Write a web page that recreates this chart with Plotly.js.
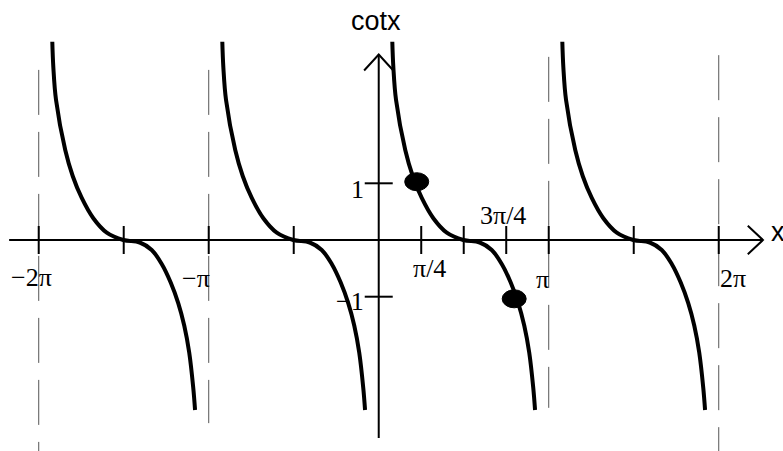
<!DOCTYPE html>
<html>
<head>
<meta charset="utf-8">
<script src="https://cdn.plot.ly/plotly-3.0.1.min.js"></script>
<style>
  html, body { margin: 0; padding: 0; background: #fff; }
  #plot { width: 783px; height: 451px; }
</style>
</head>
<body>
<div id="plot"></div>
<script>
const PI = Math.PI;

// one branch of the curve
// x is measured from the asymptote on its left
let branchDX = [0.251, 0.270, 0.320, 0.490, 0.628, 0.795, 1.009, 1.257, 1.563,
                1.867, 2.088, 2.273, 2.439, 2.578, 2.689, 2.781, 2.855, 2.889];
let branchY = [3.497, 3.051, 2.469, 1.587, 1.129, 0.741, 0.383, 0.129, 0.000,
               -0.044, -0.176, -0.423, -0.750, -1.113, -1.508, -1.984, -2.601, -2.998];

// left asymptote of each drawn branch
let branchStarts = [-2 * PI, -PI, 0, PI];

// dashed asymptotes
let asymptoteX = [-2 * PI, -PI, PI, 2 * PI];
let asymptoteTop = [3.00, 3.00, 3.23, 3.26];
let asymptoteBottom = [-3.75, -3.23, -2.96, -3.75];

// marked points
let dotX = [0.702, 2.503];
let dotY = [1.028, -1.037];

// ticks
let xTickVals = [-2 * PI, -1.5 * PI, -PI, -0.5 * PI, 0.25 * PI, 0.5 * PI, 0.75 * PI, PI, 1.5 * PI, 2 * PI];
let yTickVals = [1, -1];

// tick labels
let xLabelVals = [-2 * PI, -PI, 0.25 * PI, 0.75 * PI, PI, 2 * PI];
let xLabelText = ['\u22122\u03c0', '\u2212\u03c0', '\u03c0/4', '3\u03c0/4', '\u03c0', '2\u03c0'];
let yLabelVals = [1, -1];
let yLabelText = ['1', '\u22121'];

// label offsets in pixels
let xLabelShift = [[-7, -37], [-13, -38], [8, -28], [-3, 25], [-6, -39], [14, -38]];
let yLabelShift = [[-21, -6], [-29, -5]];

let serif = 'Liberation Serif, Times New Roman, serif';
let sans = 'Liberation Sans, Arial, sans-serif';

// curve traces
let data = branchStarts.map(function (x0) {
    return {
        x: branchDX.map(function (d) { return x0 + d; }),
        y: branchY,
        mode: 'lines',
        line: { color: '#000', width: 4, shape: 'spline', smoothing: 1 },
        hoverinfo: 'skip',
        showlegend: false
    };
});

// tick marks on the x axis
data.push({
    x: xTickVals,
    y: xTickVals.map(function () { return 0; }),
    mode: 'markers',
    marker: { symbol: 'line-ns-open', size: 20, color: '#000', line: { color: '#000', width: 2 } },
    hoverinfo: 'skip',
    showlegend: false
});

// tick marks on the y axis
data.push({
    x: yTickVals.map(function () { return 0; }),
    y: yTickVals,
    mode: 'markers',
    marker: { symbol: 'line-ew-open', size: 20, color: '#000', line: { color: '#000', width: 2 } },
    hoverinfo: 'skip',
    showlegend: false
});

let shapes = [];

// dashed asymptotes
asymptoteX.forEach(function (x, i) {
    shapes.push({
        type: 'line', xref: 'x', yref: 'y', layer: 'below',
        x0: x, x1: x, y0: asymptoteTop[i], y1: asymptoteBottom[i],
        line: { color: '#555', width: 1, dash: '45px,17px' }
    });
});

// axes with arrows
let axisLine = { color: '#000', width: 2 };
shapes.push({ type: 'line', xref: 'x', yref: 'y', layer: 'below', x0: -6.83, x1: 7.10, y0: 0, y1: 0, line: axisLine });
shapes.push({ type: 'path', xref: 'x', yref: 'y', layer: 'below', path: 'M6.82,0.25 L7.10,0 L6.82,-0.25', line: axisLine });
shapes.push({ type: 'line', xref: 'x', yref: 'y', layer: 'below', x0: 0, x1: 0, y0: -3.49, y1: 3.27, line: axisLine });
shapes.push({ type: 'path', xref: 'x', yref: 'y', layer: 'below', path: 'M-0.27,2.99 L0,3.27 L0.27,2.99', line: axisLine });

// black dots
dotX.forEach(function (x, i) {
    shapes.push({
        type: 'circle', xref: 'x', yref: 'y',
        xsizemode: 'pixel', ysizemode: 'pixel',
        xanchor: x, yanchor: dotY[i],
        x0: -12, x1: 12, y0: -9, y1: 9,
        fillcolor: '#000', line: { color: '#000', width: 1 }
    });
});

let annotations = [];
xLabelVals.forEach(function (x, i) {
    annotations.push({
        x: x, y: 0, xref: 'x', yref: 'y', text: xLabelText[i], showarrow: false,
        xshift: xLabelShift[i][0], yshift: xLabelShift[i][1],
        font: { family: serif, size: 26, color: '#000' }
    });
});
yLabelVals.forEach(function (y, i) {
    annotations.push({
        x: 0, y: y, xref: 'x', yref: 'y', text: yLabelText[i], showarrow: false,
        xshift: yLabelShift[i][0], yshift: yLabelShift[i][1],
        font: { family: serif, size: 26, color: '#000' }
    });
});

// axis names
annotations.push({
    x: 0, y: 0, xref: 'x', yref: 'paper', text: 'cotx', showarrow: false,
    yanchor: 'middle', yshift: 430, xshift: -3,
    font: { family: sans, size: 27, color: '#000' }
});
annotations.push({
    x: 7.10, y: 0, xref: 'x', yref: 'y', text: 'x', showarrow: false,
    xanchor: 'left', xshift: 6, yshift: 8,
    font: { family: sans, size: 27, color: '#000' }
});

let layout = {
    width: 783,
    height: 451,
    margin: { l: 0, r: 0, t: 0, b: 0 },
    paper_bgcolor: '#fff',
    plot_bgcolor: '#fff',
    showlegend: false,
    xaxis: { range: [-6.9987, 7.4707], visible: false, fixedrange: true },
    yaxis: { range: [-3.7213, 4.2328], visible: false, fixedrange: true },
    shapes: shapes,
    annotations: annotations
};

Plotly.newPlot('plot', data, layout, { displayModeBar: false, staticPlot: true });
</script>
</body>
</html>
